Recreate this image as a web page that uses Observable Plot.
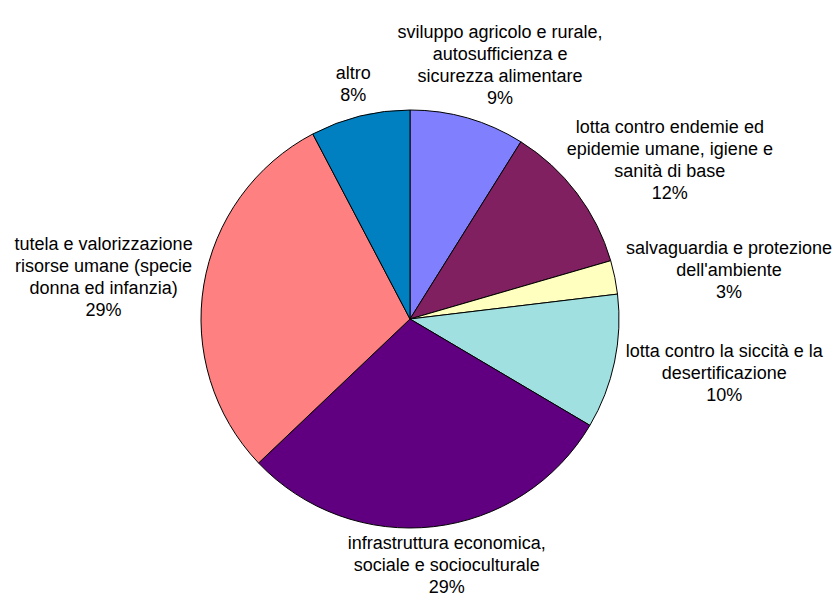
<!DOCTYPE html>
<html><head><meta charset="utf-8">
<script src="https://cdn.jsdelivr.net/npm/d3@7"></script>
<script src="https://cdn.jsdelivr.net/npm/@observablehq/plot@0.6"></script>
<style>body{margin:0;background:#fff}</style>
</head><body><div id="chart"></div>
<script>
// ---- data ----
const categories = [
  "sviluppo agricolo e rurale,\nautosufficienza e\nsicurezza alimentare",
  "lotta contro endemie ed\nepidemie umane, igiene e\nsanità di base",
  "salvaguardia e protezione\ndell'ambiente",
  "lotta contro la siccità e la\ndesertificazione",
  "infrastruttura economica,\nsociale e socioculturale",
  "tutela e valorizzazione\nrisorse umane (specie\ndonna ed infanzia)",
  "altro"
];
const values = [8.9, 11.6, 2.6, 10.4, 29.4, 29.4, 7.7];
const colors = ["#8080FF", "#802060", "#FFFFC0", "#A0E0E0", "#600080", "#FF8080", "#0080C0"];

// ---- layout ----
const W = 835, H = 597;
const cx = 410, cy = 319, R = 209;
const fontSize = 18, lineH = 22, gap = 13;
const fontFamily = "'Liberation Sans', Arial, sans-serif";

const arcs = d3.pie().sort(null).value(d => d)(values);

const ctx = document.createElement("canvas").getContext("2d");
ctx.font = `${fontSize}px ${fontFamily}`;
const labels = arcs.map((a, i) => {
  const text = categories[i] + "\n" + Math.round(values[i]) + "%";
  const lines = text.split("\n");
  const w = d3.max(lines, l => ctx.measureText(l).width);
  const h = lines.length * lineH;
  const m = (a.startAngle + a.endAngle) / 2;
  const ux = Math.sin(m), uy = -Math.cos(m);
  // anchor just outside the rim, box pushed outward by its own half-size
  let x = cx + ux * (R + gap) + ux * w / 2;
  let y = cy + uy * (R + gap) + uy * h / 2;
  // keep the whole block inside the drawing
  const halfV = (lines.length - 1) / 2 * lineH + fontSize * 0.62;
  y = Math.max(halfV, Math.min(H - halfV, y));
  x = Math.max(w / 2 + 2, Math.min(W - w / 2 - 2, x));
  return {x, y, text};
});

function pieMark(index, scales) {
  const sx = scales && scales.x ? scales.x : (v => v);
  const sy = scales && scales.y ? scales.y : (v => v);
  const x0 = sx(cx), y0 = sy(cy), r = sx(cx + R) - x0;
  const arc = d3.arc().innerRadius(0).outerRadius(r);
  const g = d3.create("svg:g");
  g.selectAll("path").data(arcs).join("path")
    .attr("transform", `translate(${x0},${y0})`)
    .attr("d", arc)
    .attr("fill", (d, i) => colors[i])
    .attr("stroke", "#000")
    .attr("stroke-width", 1)
    .attr("stroke-linejoin", "round");
  return g.node();
}

const chart = Plot.plot({
  width: W, height: H,
  margin: 0,
  x: {domain: [0, W], range: [0, W], axis: null},
  y: {domain: [0, H], range: [0, H], axis: null},
  style: {fontFamily, background: "#fff"},
  marks: [
    pieMark,
    Plot.text(labels, {
      x: "x", y: "y", text: "text",
      fontSize, lineHeight: lineH / fontSize,
      lineAnchor: "middle", textAnchor: "middle", fill: "#000"
    })
  ]
});
document.getElementById("chart").appendChild(chart);
</script>
</body></html>
